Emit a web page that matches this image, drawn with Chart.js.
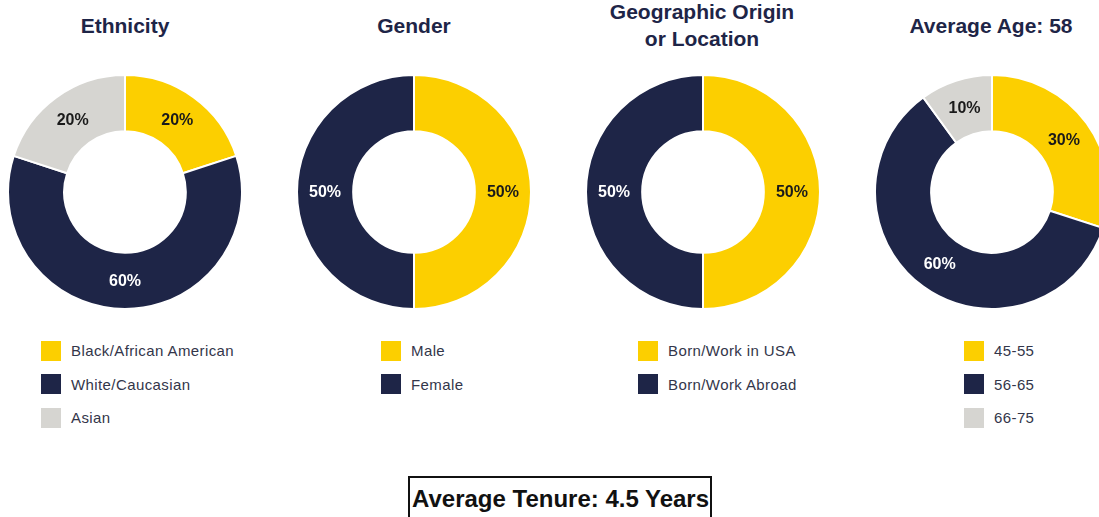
<!DOCTYPE html>
<html>
<head>
<meta charset="utf-8">
<script src="https://cdn.jsdelivr.net/npm/chart.js@4/dist/chart.umd.min.js"></script>
<style>
  html, body { margin: 0; padding: 0; background: #fff; }
  body { width: 1099px; height: 517px; position: relative; overflow: hidden; font-family: "Liberation Sans", Arial, sans-serif; }
  .title { position: absolute; top: -2px; height: 54px; width: 260px; display: flex; align-items: center; justify-content: center;
           text-align: center; font-weight: bold; font-size: 21px; line-height: 27px; color: #1e2547; }
  .chartbox { position: absolute; top: 74px; width: 236px; height: 236px; }
  .legend { position: absolute; top: 334px; margin: 0; padding: 0; list-style: none; }
  .legend li { height: 33.5px; display: flex; align-items: center; font-size: 15px; letter-spacing: 0.4px; color: #33364a; white-space: nowrap; }
  .legend li span { width: 20px; height: 20px; display: inline-block; margin-right: 10px; }
  .tenure { position: absolute; left: 408px; top: 476px; border: 2px solid #111; border-bottom: none; padding: 6px 1px 20px 2px;
            font-weight: bold; font-size: 24px; color: #111; line-height: 30px; }
</style>
</head>
<body>

<div class="title" style="left:-5px">Ethnicity</div>
<div class="title" style="left:284px">Gender</div>
<div class="title" style="left:572px">Geographic Origin<br>or Location</div>
<div class="title" style="left:861px">Average Age: 58</div>

<div class="chartbox" style="left:7px"><canvas id="ethnicityChart" width="236" height="236"></canvas></div>
<div class="chartbox" style="left:296px"><canvas id="genderChart" width="236" height="236"></canvas></div>
<div class="chartbox" style="left:585px"><canvas id="originChart" width="236" height="236"></canvas></div>
<div class="chartbox" style="left:874px"><canvas id="ageChart" width="236" height="236"></canvas></div>

<ul class="legend" id="ethnicityLegend" style="left:41px"></ul>
<ul class="legend" id="genderLegend" style="left:381px"></ul>
<ul class="legend" id="originLegend" style="left:638px"></ul>
<ul class="legend" id="ageLegend" style="left:964px"></ul>

<div class="tenure">Average Tenure: 4.5 Years</div>

<script>
// data
const ethnicityLabels = ['Black/African American', 'White/Caucasian', 'Asian'];
const ethnicityValues = [20, 60, 20];

const genderLabels = ['Male', 'Female'];
const genderValues = [50, 50];

const originLabels = ['Born/Work in USA', 'Born/Work Abroad'];
const originValues = [50, 50];

const ageLabels = ['45-55', '56-65', '66-75'];
const ageValues = [30, 60, 10];

const yellow = '#fccf00';
const navy = '#1e2547';
const grey = '#d6d5d1';
const sliceColors = [yellow, navy, grey];
const labelColors = ['#1a1a1a', '#ffffff', '#1a1a1a'];

// draws the % value in the middle of each slice
const percentLabels = {
  id: 'percentLabels',
  afterDatasetsDraw(chart) {
    const ctx = chart.ctx;
    const meta = chart.getDatasetMeta(0);
    const values = chart.data.datasets[0].data;
    ctx.save();
    ctx.font = 'bold 16px "Liberation Sans", Arial, sans-serif';
    ctx.textAlign = 'center';
    ctx.textBaseline = 'middle';
    meta.data.forEach((arc, i) => {
      const pos = arc.tooltipPosition();
      ctx.fillStyle = labelColors[i];
      ctx.fillText(values[i] + '%', pos.x, pos.y + 1);
    });
    ctx.restore();
  }
};

function makeDoughnut(id, labels, values) {
  const ctx = document.getElementById(id).getContext('2d');
  return new Chart(ctx, {
    type: 'doughnut',
    data: {
      labels: labels,
      datasets: [{
        data: values,
        backgroundColor: sliceColors.slice(0, values.length),
        borderColor: '#ffffff',
        borderWidth: 2,
        hoverOffset: 0
      }]
    },
    options: {
      responsive: false,
      animation: false,
      cutout: '52%',
      layout: { padding: 0 },
      plugins: {
        legend: { display: false },
        tooltip: { enabled: false }
      }
    },
    plugins: [percentLabels]
  });
}

function makeLegend(id, labels) {
  const list = document.getElementById(id);
  labels.forEach((label, index) => {
    const item = document.createElement('li');
    item.innerHTML = `<span style="background-color: ${sliceColors[index]};"></span>${label}`;
    list.appendChild(item);
  });
}

makeDoughnut('ethnicityChart', ethnicityLabels, ethnicityValues);
makeDoughnut('genderChart', genderLabels, genderValues);
makeDoughnut('originChart', originLabels, originValues);
makeDoughnut('ageChart', ageLabels, ageValues);

makeLegend('ethnicityLegend', ethnicityLabels);
makeLegend('genderLegend', genderLabels);
makeLegend('originLegend', originLabels);
makeLegend('ageLegend', ageLabels);
</script>
</body>
</html>
